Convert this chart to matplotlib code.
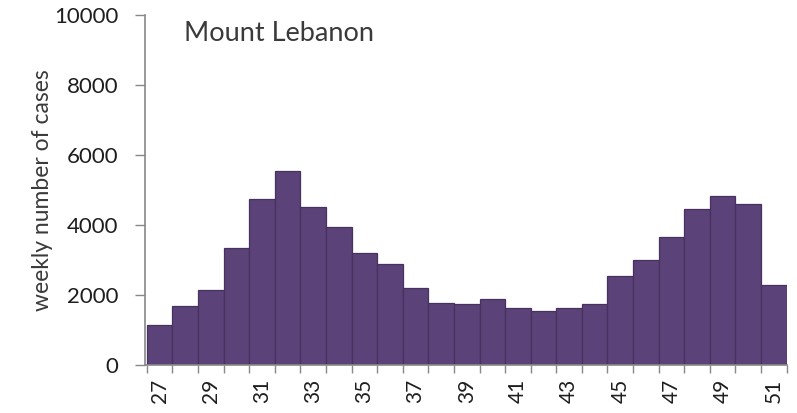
import matplotlib
matplotlib.use("Agg")
import matplotlib.pyplot as plt

weeks = list(range(27, 52))
cases = [1150, 1700, 2150, 3350, 4750, 5550, 4500, 3950, 3200, 2900,
         2200, 1780, 1740, 1880, 1620, 1550, 1640, 1740, 2540, 3000,
         3650, 4450, 4830, 4600, 2280]
tick_weeks = [w for w in weeks if w % 2 == 1]
yticks = [0, 2000, 4000, 6000, 8000, 10000]
title = "Mount Lebanon"
ylabel = "weekly number of cases"

plt.rcParams['font.family'] = ['Lato', 'DejaVu Sans']

fig = plt.figure(figsize=(7.97, 4.13), dpi=100)
ax = fig.add_axes([0.182, 0.116, 0.805, 0.848])

x = list(range(len(weeks)))
ax.bar(x, cases, width=1.0, color='#5b4278', edgecolor='#47315f', linewidth=0.9, align='center')

ax.set_xlim(-0.57, len(weeks) - 0.5)
ax.set_ylim(0, 10000)
ax.set_yticks(yticks)
ax.set_yticklabels([str(v) for v in yticks], fontsize=16, color='#1e1e1e')

major = [weeks.index(w) for w in tick_weeks]
ax.set_xticks(major)
ax.set_xticklabels([str(w) for w in tick_weeks], rotation=90, fontsize=15, color='#1e1e1e')
ax.set_xticks([i - 0.5 for i in range(len(weeks) + 1)], minor=True)
ax.tick_params(axis='x', which='major', length=0, pad=10)
ax.tick_params(axis='x', which='minor', length=6, width=1, color='#888888', direction='out')
ax.tick_params(axis='y', length=7, width=1, color='#888888', direction='out', pad=12)

for s in ['top', 'right']:
    ax.spines[s].set_visible(False)
for s in ['left', 'bottom']:
    ax.spines[s].set_color('#888888')
    ax.spines[s].set_linewidth(1.2)

ax.set_ylabel(ylabel, fontsize=16.5, color='#3a3a3a', labelpad=1)
ax.text(0.06, 0.946, title, transform=ax.transAxes, fontsize=19.5, color='#3a3a3a', va='center', ha='left')

fig.savefig("out.png", dpi=100)
